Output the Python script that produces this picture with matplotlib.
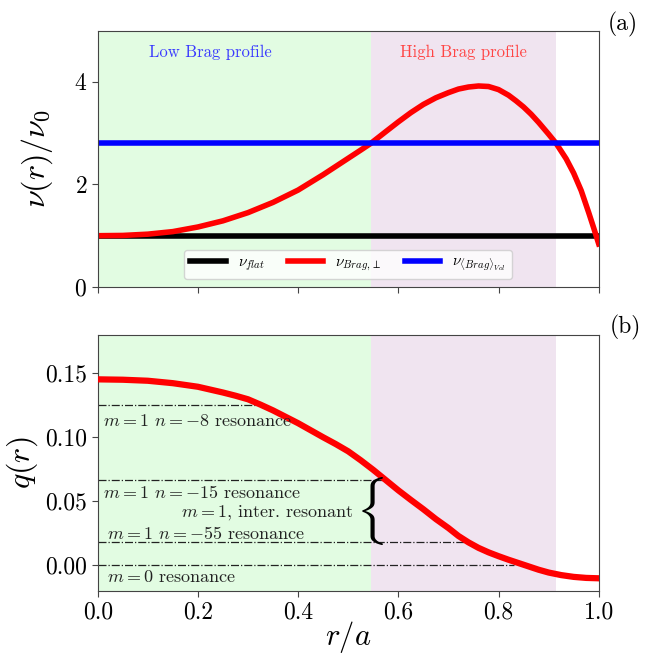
import numpy as np
import matplotlib
matplotlib.use("Agg")
import matplotlib.pyplot as plt

plt.rcParams['font.family'] = 'serif'
plt.rcParams['font.serif'] = ['cmr10']
plt.rcParams['mathtext.fontset'] = 'cm'
plt.rcParams['axes.formatter.use_mathtext'] = True

# nu(r)/nu0 profiles
r_nu = [0, 0.05, 0.1, 0.15, 0.2, 0.25, 0.3, 0.35, 0.4, 0.45, 0.5, 0.525, 0.545, 0.575,
        0.6, 0.625, 0.65, 0.675, 0.7, 0.72, 0.74, 0.76, 0.78, 0.8, 0.82, 0.835, 0.85,
        0.865, 0.88, 0.9, 0.915, 0.935, 0.95, 0.965, 0.98, 0.99, 1.0]
nu_brag = [1.0, 1.005, 1.03, 1.08, 1.17, 1.29, 1.45, 1.65, 1.89, 2.19, 2.51, 2.67, 2.80, 3.03,
           3.22, 3.40, 3.56, 3.69, 3.79, 3.86, 3.90, 3.92, 3.91, 3.85, 3.74, 3.63, 3.51,
           3.37, 3.21, 2.98, 2.80, 2.50, 2.22, 1.88, 1.45, 1.15, 0.84]
nu_flat = 1.0
nu_vol = 2.80

# safety factor q(r)
r_q = [0, 0.05, 0.1, 0.15, 0.2, 0.25, 0.275, 0.3, 0.325, 0.35, 0.375, 0.4, 0.425, 0.45,
       0.475, 0.5, 0.525, 0.55, 0.575, 0.6, 0.625, 0.65, 0.675, 0.7, 0.72, 0.74, 0.76,
       0.78, 0.8, 0.82, 0.84, 0.86, 0.88, 0.9, 0.925, 0.95, 0.975, 1.0]
q_vals = [0.1453, 0.1450, 0.1442, 0.1423, 0.1395, 0.135, 0.1325, 0.1297, 0.1255, 0.121,
          0.116, 0.111, 0.1055, 0.100, 0.0947, 0.089, 0.082, 0.0745, 0.0665, 0.0585,
          0.051, 0.0437, 0.036, 0.029, 0.0228, 0.0178, 0.0135, 0.0100, 0.0070, 0.0042,
          0.0016, -0.0010, -0.0036, -0.0058, -0.0078, -0.0092, -0.0100, -0.0103]

# resonances: q value and where the line stops
res_q = [1 / 8, 1 / 15, 1 / 55, 0.0]
res_end = [0.318, 0.58, 0.736, 0.83]
res_labels = [r'$m=1$ $n=-8$ resonance', r'$m=1$ $n=-15$ resonance',
              r'$m=1$ $n=-55$ resonance', r'$m=0$ resonance']
res_label_pos = [(0.01, 0.1127), (0.01, 0.057), (0.018, 0.0245), (0.018, -0.009)]

low_region = (0.0, 0.545)
high_region = (0.545, 0.915)

fig = plt.figure(figsize=(6.66, 6.54), dpi=100)
ax1 = fig.add_axes([0.1467, 0.5612, 0.7523, 0.392])
ax2 = fig.add_axes([0.1467, 0.0968, 0.7523, 0.391])

green = '#e2fce2'
purple = '#f0e4f0'

for ax in (ax1, ax2):
    ax.axvspan(*low_region, color=green, lw=0, zorder=0)
    ax.axvspan(*high_region, color=purple, lw=0, zorder=0)
    ax.set_xlim(0, 1)
    ax.set_xticks([0, 0.2, 0.4, 0.6, 0.8, 1.0])
    ax.tick_params(labelsize=17, length=4, color='#444444')
    for s in ax.spines.values():
        s.set_color('#444444')

# top panel
ax1.plot([0, 1], [nu_flat, nu_flat], color='black', lw=4, label=r'$\nu_{flat}$')
ax1.plot(r_nu, nu_brag, color='red', lw=4, label=r'$\nu_{Brag,\perp}$')
ax1.plot([0, 1], [nu_vol, nu_vol], color='blue', lw=4, label=r'$\nu_{\langle Brag\rangle_{Vol}}$')
ax1.set_ylim(0, 5)
ax1.set_yticks([0, 2, 4])
ax1.set_xticklabels([])
ax1.set_ylabel(r'$\nu(r)/\nu_0$', fontsize=23)
ax1.yaxis.set_label_coords(-0.085, 0.5)
ax1.text(0.225, 4.58, 'Low Brag profile', color='#3a3aff', fontsize=12, ha='center', va='center')
ax1.text(0.73, 4.58, 'High Brag profile', color='#ff4545', fontsize=12, ha='center', va='center')
ax1.legend(loc='lower center', ncol=3, fontsize=11, handlelength=2.3, columnspacing=1.5)

# bottom panel
ax2.plot(r_q, q_vals, color='red', lw=4.5, zorder=3)
for qv, re in zip(res_q, res_end):
    ax2.plot([0, re], [qv, qv], color='#222222', ls='-.', lw=0.9, zorder=2)
for lab, (x, y) in zip(res_labels, res_label_pos):
    ax2.text(x, y, lab, fontsize=13, color='#222222', ha='left', va='center')
ax2.text(0.51, 0.041, r'$m=1$, inter. resonant', fontsize=13, color='#222222', ha='right', va='center')
ax2.text(0.513, 0.0425, r'$\{$', fontsize=41, ha='left', va='center')
ax2.set_ylim(-0.02, 0.18)
ax2.set_yticks([0.0, 0.05, 0.10, 0.15])
ax2.set_yticklabels(['0.00', '0.05', '0.10', '0.15'])
ax2.set_xticklabels(['0.0', '0.2', '0.4', '0.6', '0.8', '1.0'])
ax2.set_ylabel(r'$q(r)$', fontsize=23)
ax2.set_xlabel(r'$r/a$', fontsize=22, labelpad=-3)

fig.text(0.913, 0.962, '(a)', fontsize=17, va='center')
fig.text(0.916, 0.500, '(b)', fontsize=17, va='center')

fig.savefig('out.png', dpi=100)
